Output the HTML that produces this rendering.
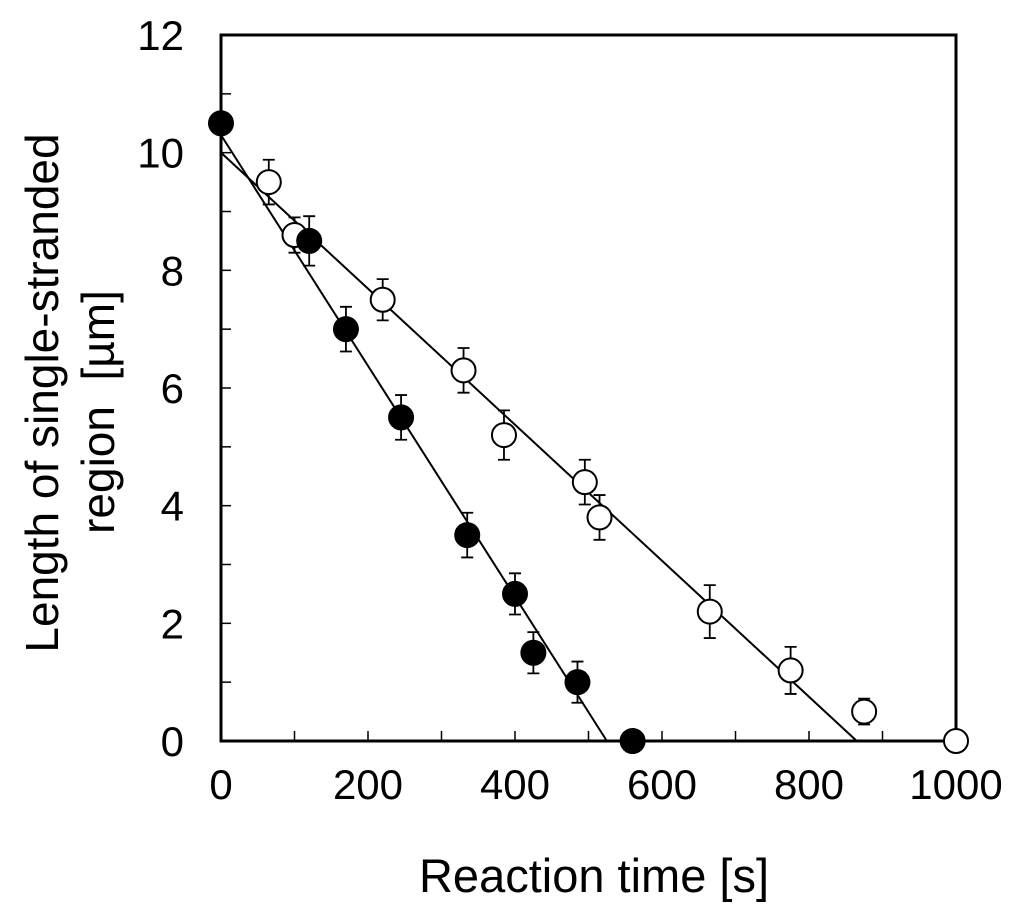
<!DOCTYPE html>
<html><head><meta charset="utf-8"><style>
body{margin:0;background:#fff;}
svg text{font-family:"Liberation Sans",Arial,sans-serif;fill:#000;}
</style></head><body>
<svg id="chart" width="1024" height="919" xmlns="http://www.w3.org/2000/svg"></svg>
<script>
const filledX=[0,120,170,245,335,400,425,485,560];
const filledY=[10.5,8.5,7.0,5.5,3.5,2.5,1.5,1.0,0];
const filledErr=[0,0.42,0.38,0.38,0.38,0.35,0.35,0.35,0];
const openX=[65,100,220,330,385,495,515,665,775,875,1000];
const openY=[9.5,8.6,7.5,6.3,5.2,4.4,3.8,2.2,1.2,0.5,0];
const openErr=[0.38,0.3,0.35,0.38,0.42,0.38,0.38,0.45,0.4,0.22,0];
const filledFit=[[0,10.3],[525,0]];
const openFit=[[0,10.0],[865,0]];
const xTicks=[0,200,400,600,800,1000];
const yTicks=[0,2,4,6,8,10,12];
const X0=221,X1=956,Y0=741,Y1=35;
const sx=v=>X0+(X1-X0)*v/1000, sy=v=>Y0-(Y0-Y1)*v/12;
const svg=document.getElementById('chart');const NS='http://www.w3.org/2000/svg';
function mk(t,a,p){const e=document.createElementNS(NS,t);for(const k in a)e.setAttribute(k,a[k]);(p||svg).appendChild(e);return e;}
let e;
e=mk('rect',{x:X0,y:Y1,width:X1-X0,height:Y0-Y1,fill:'none',stroke:'#000','stroke-width':3});


for(let v=100;v<1000;v+=100){e=mk('line',{x1:sx(v),x2:sx(v),y1:Y0,y2:Y0-10,stroke:'#000','stroke-width':1.5});

}
for(let v=1;v<12;v++){e=mk('line',{x1:X0,x2:X0+10,y1:sy(v),y2:sy(v),stroke:'#000','stroke-width':1.5});

}
xTicks.forEach(v=>{e=mk('text',{x:sx(v),y:Y0+58,'font-size':42,'text-anchor':'middle'});e.textContent=v;

});
yTicks.forEach(v=>{e=mk('text',{x:X0-37,y:sy(v)+15,'font-size':42,'text-anchor':'end'});e.textContent=v;

});
e=mk('text',{x:594,y:892,'font-size':47,'text-anchor':'middle'});e.textContent='Reaction time [s]';


e=mk('text',{transform:'translate(58,393) rotate(-90)','font-size':46,'text-anchor':'middle'});e.textContent='Length of single-stranded';


e=mk('text',{transform:'translate(114,412) rotate(-90)','font-size':46,'text-anchor':'middle'});e.textContent='region \u00a0[µm]';


[[filledFit,'filled-fit-line'],[openFit,'open-fit-line']].forEach(([f,n])=>{e=mk('line',{x1:sx(f[0][0]),y1:sy(f[0][1]),x2:sx(f[1][0]),y2:sy(f[1][1]),stroke:'#000','stroke-width':2});

});
function series(xs,ys,es,fill,name){xs.forEach((x,i)=>{const cx=sx(x),cy=sy(ys[i]);
if(es[i]>0){const t=sy(ys[i]+es[i]),b=sy(ys[i]-es[i]);
e=mk('path',{d:`M${cx},${t}V${b}M${cx-6},${t}H${cx+6}M${cx-6},${b}H${cx+6}`,stroke:'#000','stroke-width':1.8,fill:'none'});

}
e=mk('circle',{cx:cx,cy:cy,r:12,fill:fill,stroke:'#000','stroke-width':2});

});}
series(openX,openY,openErr,'#fff','open');
series(filledX,filledY,filledErr,'#000','filled');
</script>
</body></html>
